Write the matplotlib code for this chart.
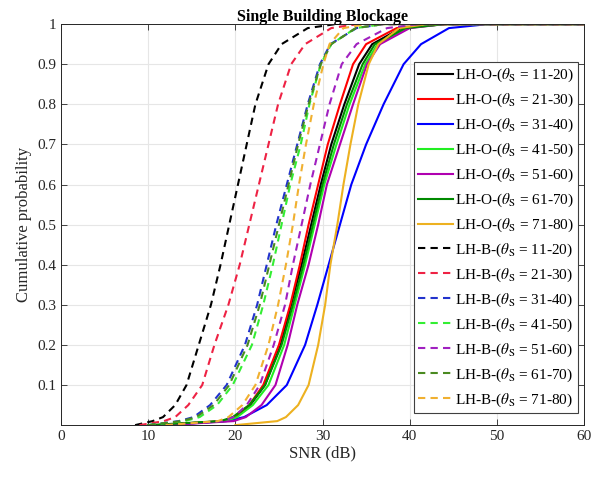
"""CDF of SNR for single building blockage, LH-O vs LH-B."""

import matplotlib
matplotlib.use("Agg")
import matplotlib.pyplot as plt

# cumulative probability levels the SNR values were read at
PROBS = [0, 0.01, 0.02, 0.05, 0.1, 0.2, 0.3, 0.4, 0.5, 0.6, 0.7, 0.8, 0.9, 0.95, 0.99, 1, 1]

# SNR (dB) at each level, LH-O (solid)
O_11_20 = [11, 18.6, 19.9, 21.7, 23.4, 25.2, 26.4, 27.6, 28.7, 29.8, 31.0, 32.5, 34.2, 35.7, 39.0, 44, 60]
O_21_30 = [11, 18.6, 19.8, 21.6, 23.2, 25.0, 26.3, 27.4, 28.4, 29.5, 30.6, 32.0, 33.5, 35.0, 38.5, 43, 60]
O_31_40 = [12, 19.0, 21.0, 23.6, 25.9, 28.0, 29.4, 30.7, 32.0, 33.3, 35.0, 37.0, 39.3, 41.3, 44.5, 49, 60]
O_41_50 = [11, 18.9, 20.2, 22.0, 23.8, 25.6, 26.8, 28.0, 29.1, 30.2, 31.6, 33.1, 34.9, 36.3, 39.8, 44, 60]
O_51_60 = [12, 19.8, 21.2, 23.0, 24.6, 26.0, 27.1, 28.4, 29.5, 30.5, 32.0, 33.5, 35.1, 36.6, 40.0, 44, 60]
O_61_70 = [10, 18.3, 19.7, 21.6, 23.4, 25.3, 26.6, 27.8, 28.9, 30.0, 31.3, 32.8, 34.6, 36.0, 39.5, 44, 60]
O_71_80 = [20, 24.8, 25.8, 27.2, 28.4, 29.5, 30.3, 30.9, 31.7, 32.4, 33.2, 34.1, 35.3, 36.4, 38.8, 42, 60]

# SNR (dB) at each level, LH-B (dashed)
B_11_20 = [8.5, 10.5, 11.7, 13.1, 14.4, 15.8, 17.2, 18.3, 19.3, 20.3, 21.3, 22.3, 23.8, 25.3, 28.3, 31.5, 60]
B_21_30 = [9, 11.8, 13.1, 14.6, 16.2, 17.6, 19.2, 20.5, 21.6, 22.7, 23.8, 24.9, 26.4, 28.0, 31.0, 34, 60]
B_31_40 = [10, 13.5, 15.2, 17.1, 19.0, 21.1, 22.5, 23.6, 24.7, 25.9, 27.1, 28.3, 29.7, 30.9, 33.9, 37, 60]
B_41_50 = [10, 14.2, 15.9, 17.9, 19.7, 21.9, 23.2, 24.3, 25.3, 26.3, 27.5, 28.5, 29.8, 31.0, 33.8, 37, 60]
B_51_60 = [12, 18.5, 19.8, 21.3, 22.8, 24.4, 25.7, 26.6, 27.6, 28.6, 29.7, 30.8, 32.2, 33.9, 37.4, 41, 60]
B_61_70 = [10, 13.8, 15.5, 17.5, 19.3, 21.4, 22.8, 23.9, 25.0, 26.1, 27.2, 28.4, 29.8, 31.0, 33.8, 37, 60]
B_71_80 = [12, 18.0, 19.2, 20.8, 22.3, 23.8, 24.9, 25.8, 26.6, 27.3, 28.1, 29.0, 30.1, 30.8, 32.4, 35, 60]

RANGES = ["11-20", "21-30", "31-40", "41-50", "51-60", "61-70", "71-80"]
COLORS = ["black", "red", "blue", "#22ee22", "#b000b0", "#008a00", "#edb120"]
B_COLORS = ["black", "#ee2244", "#2233cc", "#33ee33", "#a020c0", "#4a8a20", "#f0b030"]

plt.rcParams.update({
    "font.family": ["Liberation Serif", "DejaVu Serif"],
    "mathtext.fontset": "stix",
})

fig = plt.figure(figsize=(6.04, 4.82), dpi=100)
ax = fig.add_axes([0.101, 0.118, 0.866, 0.832])

o_series = [O_11_20, O_21_30, O_31_40, O_41_50, O_51_60, O_61_70, O_71_80]
b_series = [B_11_20, B_21_30, B_31_40, B_41_50, B_51_60, B_61_70, B_71_80]

for snr, rng, col in zip(o_series, RANGES, COLORS):
    ax.plot(snr, PROBS, "-", color=col, lw=1.5,
            label=r"LH-O-($\theta_{\rm S}$ = " + rng + ")")
for snr, rng, col in zip(b_series, RANGES, B_COLORS):
    ax.plot(snr, PROBS, "--", color=col, lw=1.5, dashes=(3.5, 2.5),
            label=r"LH-B-($\theta_{\rm S}$ = " + rng + ")")

ax.set_xlim(0, 60)
ax.set_ylim(0, 1)
ax.set_xticks(range(0, 61, 10))
yt = [0.1, 0.2, 0.3, 0.4, 0.5, 0.6, 0.7, 0.8, 0.9, 1.0]
ax.set_yticks(yt)
ax.set_yticklabels(["0.1", "0.2", "0.3", "0.4", "0.5", "0.6", "0.7", "0.8", "0.9", "1"])
ax.tick_params(direction="in", labelsize=11, length=4, width=0.6, top=True, right=True,
               colors="#262626", labelcolor="#262626")
ax.grid(True, color="#e6e6e6", lw=0.8)
ax.set_axisbelow(True)
for s in ax.spines.values():
    s.set_color("#262626")
    s.set_linewidth(0.7)

ax.set_xlabel("SNR (dB)", fontsize=12, color="#262626", labelpad=2)
ax.set_ylabel("Cumulative probability", fontsize=12, color="#262626", labelpad=4)
ax.set_title("Single Building Blockage", fontsize=11.5, fontweight="bold", pad=2)

leg = ax.legend(loc="upper right", bbox_to_anchor=(0.989, 0.905), fontsize=11,
                handlelength=2.3, handletextpad=0.1, labelspacing=0.5,
                borderpad=0.3, borderaxespad=0, fancybox=False, framealpha=1)
leg.get_frame().set_edgecolor("#404040")
leg.get_frame().set_linewidth(0.8)

fig.savefig("out.png", dpi=100)
